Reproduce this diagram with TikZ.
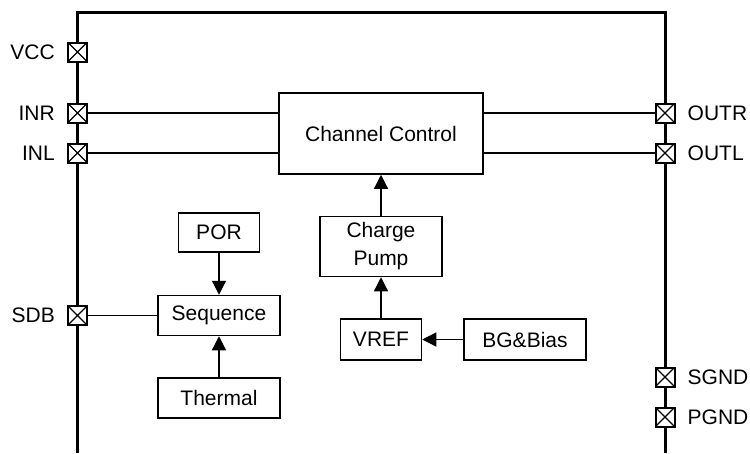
\documentclass[tikz,border=0pt]{standalone}
\usepackage{fontspec}
\setmainfont{Liberation Sans}
\usetikzlibrary{arrows.meta,positioning}

\tikzset{
	block/.style={draw, line width=1.5pt, inner sep=0pt, align=center},
	pad/.style={draw, fill=white, line width=2pt, minimum size=19pt, inner sep=0pt,
		path picture={\draw[line width=1.1pt]
			(path picture bounding box.north west) -- (path picture bounding box.south east)
			(path picture bounding box.north east) -- (path picture bounding box.south west);}},
	padname/.style={inner sep=0pt},
	wire/.style={line width=1.2pt},
}

\begin{document}
\begin{tikzpicture}[x=1pt, y=-1pt, >={Triangle[length=14pt,width=14pt]},
	font=\fontsize{21}{28}\selectfont, node distance=41pt]
	\useasboundingbox (0,0) rectangle (750,453);

	% Frame
	\coordinate (lb) at (77.5,453);
	\coordinate (rt) at (665,12);
	\draw [line width=3pt] (lb) |- (rt) -- (rt |- lb);

	% Blocks {cc, cp, vref, bg, seq, por, therm}
	\node [block, minimum width=204pt, minimum height=81pt]	(cc)	at (381,133.5)		{Channel Control};
	\node [block, minimum width=122pt, minimum height=60pt]	(cp)	[below=of cc]		{Charge\\Pump};
	\node [block, minimum width=81pt, minimum height=41pt]	(vref)	[below=of cp]		{VREF};
	\node [block, minimum width=122pt, minimum height=41pt]	(bg)	[right=of vref]		{BG\&Bias};
	\node [block, minimum width=122pt, minimum height=40pt]	(seq)	at (219,315.5)		{Sequence};
	\node [block, minimum width=81pt, minimum height=39pt]	(por)	[above=42pt of seq]	{POR};
	\node [block, minimum width=122pt, minimum height=40pt]	(therm)	[below=of seq]		{Thermal};

	% Pads on the left side
	\node [pad]	(vcc)	at (77.5,52)	{};
	\node [pad]	(inr)	at (77.5,113)	{};
	\node [pad]	(inl)	at (77.5,153)	{};
	\node [pad]	(sdb)	at (77.5,315.5)	{};
	\node [padname, left=12pt of vcc]	{VCC};
	\node [padname, left=12pt of inr]	{INR};
	\node [padname, left=12pt of inl]	{INL};
	\node [padname, left=12pt of sdb]	{SDB};

	% Pads on the right side
	\node [pad]	(outr)	at (665,113)	{};
	\node [pad]	(outl)	at (665,153)	{};
	\node [pad]	(sgnd)	at (665,377)	{};
	\node [pad]	(pgnd)	at (665,417)	{};
	\node [padname, right=12pt of outr]	{OUTR};
	\node [padname, right=12pt of outl]	{OUTL};
	\node [padname, right=12pt of sgnd]	{SGND};
	\node [padname, right=12pt of pgnd]	{PGND};

	% Wires
	\draw [wire]	(inr) -- (inr -| cc.west);
	\draw [wire]	(inl) -- (inl -| cc.west);
	\draw [wire]	(cc.east |- outr) -- (outr);
	\draw [wire]	(cc.east |- outl) -- (outl);
	\draw [wire]	(sdb) -- (sdb -| seq.west);

	% Arrows
	\draw [wire, ->]	(por) -- (seq);
	\draw [wire, ->]	(therm) -- (seq);
	\draw [wire, ->]	(bg) -- (vref);
	\draw [wire, ->]	(vref) -- (cp);
	\draw [wire, ->]	(cp) -- (cc);
\end{tikzpicture}
\end{document}
